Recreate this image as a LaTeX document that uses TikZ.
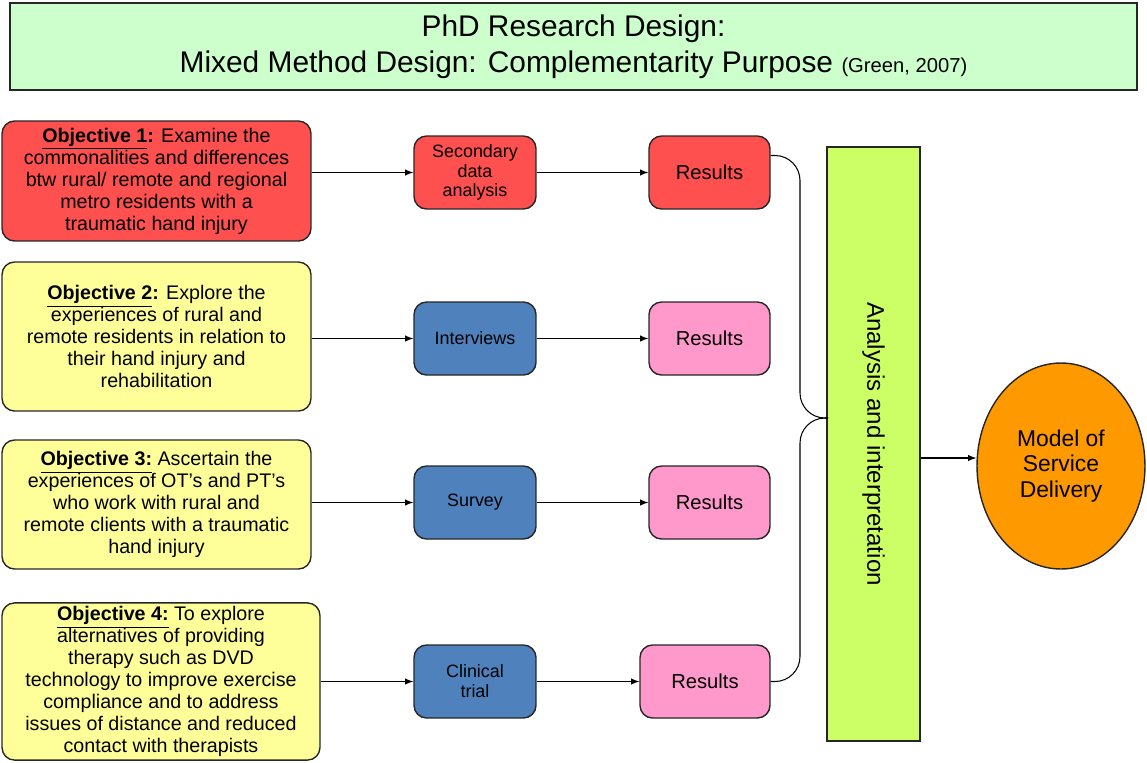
\documentclass[tikz,border=0pt]{standalone}
\usepackage{fontspec}
\setmainfont{Liberation Sans}
\usetikzlibrary{shapes.geometric}
\definecolor{titlegreen}{HTML}{CCFFCC}
\definecolor{objred}{HTML}{FF5050}
\definecolor{objyellow}{HTML}{FFFF99}
\definecolor{metblue}{HTML}{4F81BD}
\definecolor{respink}{HTML}{FF99CC}
\definecolor{anagreen}{HTML}{CCFF66}
\definecolor{modelorange}{HTML}{FF9900}
\begin{document}
\begin{tikzpicture}[->,>=latex,x=0.02cm,y=-0.02cm,line width=0.6pt,
   box/.style={draw=black!85,line width=0.8pt,rounded corners=0.25cm,align=center,inner sep=2pt,
     font=\fontsize{11.2}{12.5}\selectfont},
   obj/.style={box,minimum width=6.18cm},
   met/.style={box,fill=metblue,minimum width=2.44cm,minimum height=1.46cm,font=\fontsize{10.2}{11.3}\selectfont},
   res/.style={box,fill=respink,minimum width=2.42cm,minimum height=1.46cm,font=\fontsize{11.5}{13}\selectfont}]
   \useasboundingbox (0,0) rectangle (1147,762);

   \node[draw=black!85,line width=0.8pt,fill=titlegreen,minimum width=22.54cm,minimum height=1.74cm,
     align=center,font=\fontsize{17}{20.4}\selectfont] (title) at (573.5,46.5)
     {PhD Research Design:\\Mixed Method Design: Complementarity Purpose {\fontsize{11.5}{13}\selectfont (Green, 2007)}};

   \node[obj,fill=objred,minimum height=2.4cm] (obj1) at (156.5,181)
     {\textbf{\underline{Objective 1}:} Examine the\\commonalities and differences\\btw rural/ remote and regional\\metro residents with a\\traumatic hand injury};
   \node[obj,fill=objyellow,minimum height=2.98cm] (obj2) at (156.5,336.5)
     {\textbf{\underline{Objective 2}:} Explore the\\experiences of rural and\\remote residents in relation to\\their hand injury and\\rehabilitation};
   \node[obj,fill=objyellow,minimum height=2.58cm] (obj3) at (156.5,504.5)
     {\textbf{\underline{Objective 3:}} Ascertain the\\experiences of OT’s and PT’s\\who work with rural and\\remote clients with a traumatic\\hand injury};
   \node[obj,fill=objyellow,minimum width=6.36cm,minimum height=3.1cm] (obj4) at (161,681.5)
     {\textbf{\underline{Objective 4:}} To explore\\alternatives of providing\\therapy such as DVD\\technology to improve exercise\\compliance and to address\\issues of distance and reduced\\contact with therapists};

   \node[met,fill=objred] (met1) at (475,172.5) {Secondary\\data\\analysis};
   \node[met] (met2) at (475,338.5) {Interviews};
   \node[met] (met3) at (475,502.5) {Survey};
   \node[met] (met4) at (475,681.5) {Clinical\\trial};

   \node[res,fill=objred] (res1) at (709.5,172.5) {Results};
   \node[res] (res2) at (709.5,338.5) {Results};
   \node[res] (res3) at (709.5,502.5) {Results};
   \node[res,minimum width=2.6cm] (res4) at (705,681.5) {Results};

   \node[draw=black!85,line width=0.8pt,fill=anagreen,minimum width=1.86cm,minimum height=11.88cm,
     label={[rotate=-90,font=\fontsize{13.7}{16}\selectfont]center:Analysis and interpretation}] (ana) at (873.5,444) {};

   \node[ellipse,draw=black!85,line width=0.8pt,fill=modelorange,minimum width=3.36cm,minimum height=4.12cm,
     inner sep=0pt,align=center,font=\fontsize{13}{14.7}\selectfont] (model) at (1061,466) {Model of\\Service\\Delivery};

   \coordinate (bar) at (800,418);
   \coordinate (brace) at (828,418);

   \path (obj1.east |- met1.west) edge (met1);
   \path (obj2.east |- met2.west) edge (met2);
   \path (obj3.east |- met3.west) edge (met3);
   \path (obj4.east |- met4.west) edge (met4);

   \path (met1) edge (res1);
   \path (met2) edge (res2);
   \path (met3) edge (res3);
   \path (met4) edge (res4);

   \draw[-,rounded corners=.5cm] ([yshift=.34cm]res1.east) -| (bar) -- (brace);
   \draw[-,rounded corners=.5cm] (brace) -- (bar) |- (res4.east);

   \path ([yshift=.16cm]model.west -| ana.east) edge ([yshift=.16cm]model.west);
\end{tikzpicture}
\end{document}
